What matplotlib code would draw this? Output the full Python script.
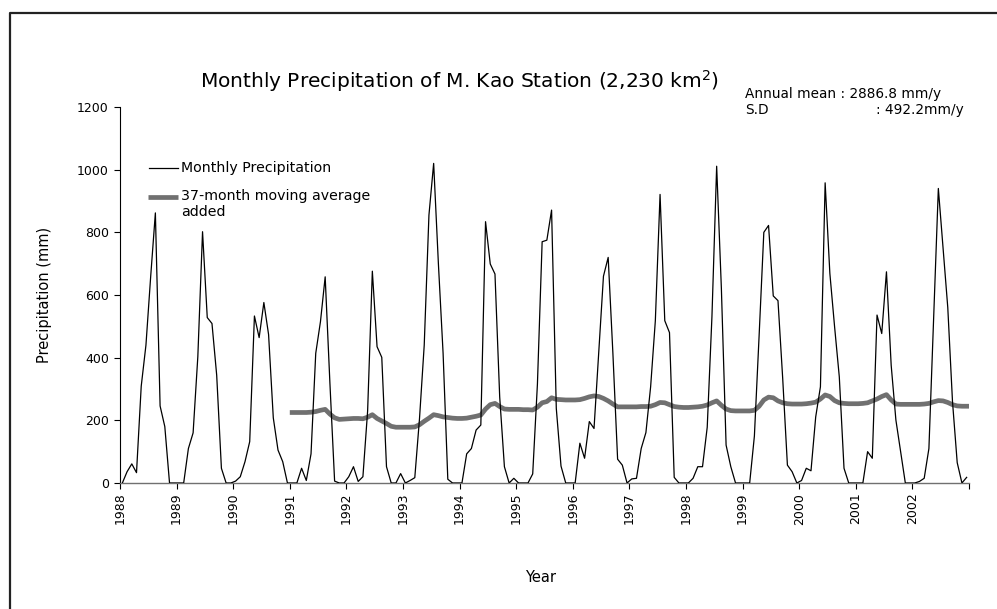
import numpy as np
import matplotlib
matplotlib.use("Agg")
import matplotlib.pyplot as plt
from matplotlib.lines import Line2D

# ---------------- data ----------------
years = list(range(1988, 2003))
year_labels = [str(y) for y in years]

p1988 = [0, 36, 61, 33, 309, 440, 658, 862, 246, 180, 0, 0]
p1989 = [0, 0, 110, 160, 403, 802, 528, 509, 344, 47, 0, 0]
p1990 = [6, 20, 68, 132, 533, 464, 576, 474, 208, 105, 68, 0]
p1991 = [0, 0, 47, 8, 93, 414, 515, 658, 320, 6, 0, 0]
p1992 = [20, 52, 5, 20, 230, 676, 435, 401, 52, 0, 0, 30]
p1993 = [0, 8, 17, 206, 440, 855, 1020, 701, 414, 12, 0, 0]
p1994 = [0, 93, 110, 169, 185, 834, 699, 667, 275, 52, 0, 15]
p1995 = [0, 0, 0, 29, 316, 770, 775, 871, 238, 54, 0, 0]
p1996 = [0, 127, 79, 196, 174, 417, 660, 720, 414, 76, 57, 0]
p1997 = [13, 15, 110, 161, 307, 518, 921, 518, 480, 18, 0, 0]
p1998 = [0, 15, 52, 52, 178, 531, 1011, 621, 121, 52, 0, 0]
p1999 = [0, 0, 150, 470, 800, 822, 597, 582, 334, 57, 36, 0]
p2000 = [8, 47, 39, 211, 307, 958, 669, 499, 339, 47, 0, 0]
p2001 = [0, 0, 100, 79, 536, 477, 674, 376, 201, 100, 0, 0]
p2002 = [0, 5, 15, 110, 525, 940, 750, 560, 260, 65, 0, 18]

monthly = (p1988 + p1989 + p1990 + p1991 + p1992 + p1993 + p1994 + p1995
           + p1996 + p1997 + p1998 + p1999 + p2000 + p2001 + p2002)

# 37-month moving average (Jan 1991 .. Dec 2002)
ma1991 = [225, 225, 225, 225, 226, 228, 232, 235, 220, 208, 203, 204]
ma1992 = [205, 206, 206, 205, 210, 218, 206, 198, 190, 181, 178, 178]
ma1993 = [178, 178, 179, 186, 197, 207, 218, 215, 211, 209, 207, 206]
ma1994 = [206, 207, 210, 213, 217, 236, 250, 254, 244, 236, 235, 235]
ma1995 = [235, 234, 234, 233, 242, 256, 260, 272, 267, 266, 265, 265]
ma1996 = [265, 266, 270, 275, 278, 276, 270, 262, 252, 243, 243, 243]
ma1997 = [243, 243, 244, 244, 245, 250, 257, 256, 250, 244, 242, 241]
ma1998 = [241, 242, 243, 245, 249, 256, 262, 248, 236, 231, 230, 230]
ma1999 = [230, 230, 232, 245, 265, 274, 272, 262, 256, 253, 252, 252]
ma2000 = [252, 253, 255, 258, 268, 281, 276, 263, 256, 254, 253, 253]
ma2001 = [253, 254, 256, 262, 268, 276, 282, 265, 252, 251, 251, 251]
ma2002 = [251, 251, 252, 254, 259, 263, 262, 257, 250, 246, 245, 245]

moving_avg = (ma1991 + ma1992 + ma1993 + ma1994 + ma1995 + ma1996
              + ma1997 + ma1998 + ma1999 + ma2000 + ma2001 + ma2002)
ma_start = 36

title = "Monthly Precipitation of M. Kao Station (2,230 km$^2$)"
stats_line1 = "Annual mean : 2886.8 mm/y"
stats_sd = "S.D"
stats_sd_val = ": 492.2mm/y"
legend_monthly = "Monthly Precipitation"
legend_ma = "37-month moving average\nadded"

# ---------------- figure ----------------
W, H = 997, 609
fig = plt.figure(figsize=(W / 100, H / 100), dpi=100)
fig.patch.set_facecolor("white")

def fx(px):
    return px / W

def fy(py):
    return 1 - py / H

ax_l, ax_r, ax_t, ax_b = 120, 969, 107, 483
ax = fig.add_axes([fx(ax_l), fy(ax_b), fx(ax_r - ax_l), (ax_b - ax_t) / H])

n = len(monthly)
x = np.arange(n) + 0.5
ma_color = "#707070"
ax.plot(x[ma_start:ma_start + len(moving_avg)], moving_avg, color=ma_color,
        lw=3.4, solid_joinstyle="round", zorder=2)
ax.plot(x, monthly, color="black", lw=0.9, zorder=3)

ax.set_xlim(0, n)
ax.set_ylim(0, 1200)
ax.set_yticks(np.arange(0, 1201, 200))
ax.set_xticks(np.arange(0, n + 1, 12))
ax.set_xticklabels(year_labels + [""], rotation=90)
ax.tick_params(axis="both", direction="out", length=4, width=0.8,
               labelsize=9, colors="black")
ax.tick_params(axis="x", pad=3)
ax.tick_params(axis="y", pad=4)
for s in ("top", "right"):
    ax.spines[s].set_visible(False)
ax.spines["left"].set_color("black")
ax.spines["left"].set_linewidth(0.8)
ax.spines["bottom"].set_color("#707070")
ax.spines["bottom"].set_linewidth(1.0)

ax.set_ylabel("Precipitation (mm)", fontsize=10.5, labelpad=14)
ax.yaxis.set_label_coords(fx(52 - ax_l) / fx(ax_r - ax_l), 0.5)
fig.text(fx(541), fy(577), "Year", fontsize=10.5, ha="center", va="center")

# title and statistics
fig.text(fx(200), fy(88), title, fontsize=14.5, ha="left", va="baseline")
fig.text(fx(745), fy(98), stats_line1, fontsize=9.8, ha="left", va="baseline")
fig.text(fx(745), fy(114), stats_sd, fontsize=9.8, ha="left", va="baseline")
fig.text(fx(876), fy(114), stats_sd_val, fontsize=9.8, ha="left", va="baseline")

# legend (drawn manually to sit where the original places it)
fig.add_artist(Line2D([fx(149), fx(178)], [fy(168), fy(168)], color="black", lw=0.9))
fig.text(fx(181), fy(168), legend_monthly, fontsize=10.2, ha="left", va="center")
fig.add_artist(Line2D([fx(148), fx(178)], [fy(197), fy(197)], color=ma_color,
                      lw=3.4, solid_capstyle="butt"))
fig.text(fx(181), fy(189), legend_ma, fontsize=10.2, ha="left", va="top",
         linespacing=1.15)

# outer frame (runs off the right and bottom of the picture)
fig.add_artist(Line2D([fx(9.5), fx(9.5), fx(1010)], [fy(620), fy(12.5), fy(12.5)],
                      color="#222222", lw=1.6))

fig.savefig("out.png", dpi=100, facecolor="white")
